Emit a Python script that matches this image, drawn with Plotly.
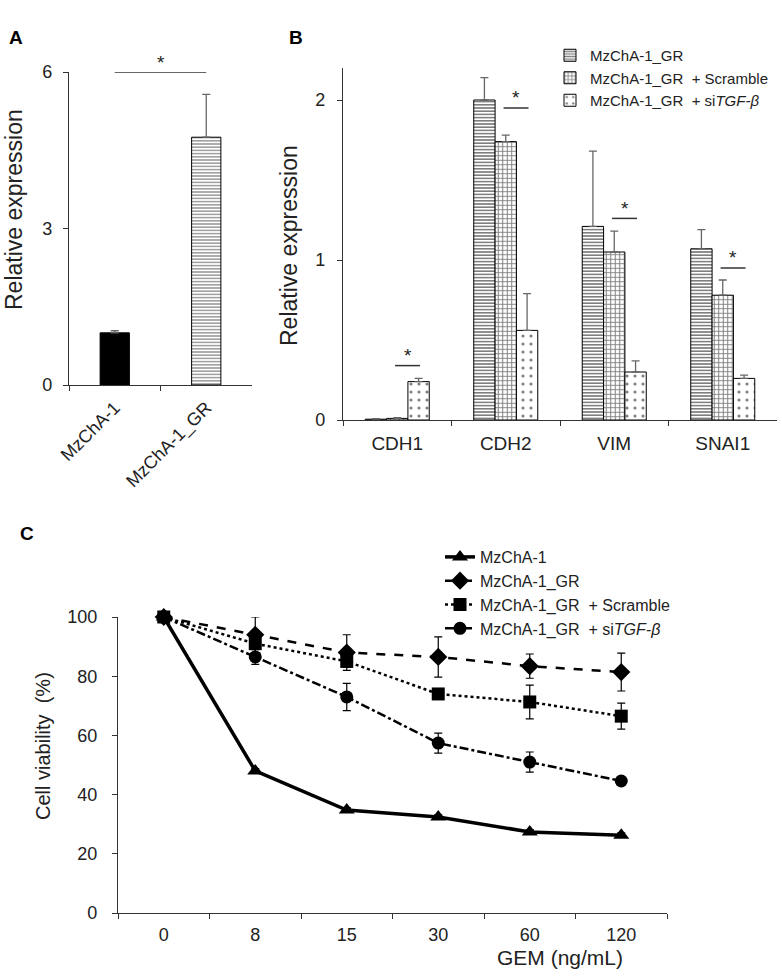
import plotly.graph_objects as go

# ---------------- data ----------------
A_groups = ['MzChA-1', 'MzChA-1_GR']
A_values = [1.0, 4.75]
A_err = [0.04, 0.82]
A_sig_y = 6.0

B_genes = ['CDH1', 'CDH2', 'VIM', 'SNAI1']
B_names = ['MzChA-1_GR', 'MzChA-1_GR  + Scramble', 'MzChA-1_GR  + si<i>TGF-β</i>']
B_gr = [0.005, 2.0, 1.21, 1.07]
B_gr_err = [0.003, 0.14, 0.47, 0.12]
B_scr = [0.01, 1.74, 1.05, 0.78]
B_scr_err = [0.004, 0.04, 0.13, 0.095]
B_si = [0.24, 0.56, 0.30, 0.26]
B_si_err = [0.02, 0.23, 0.07, 0.02]
B_sig_y = [0.34, 1.95, 1.26, 0.95]

C_doses = ['0', '8', '15', '30', '60', '120']
C_names = ['MzChA-1', 'MzChA-1_GR', 'MzChA-1_GR  + Scramble', 'MzChA-1_GR  + si<i>TGF-β</i>']
C_mz = [100, 48, 34.8, 32.4, 27.4, 26.3]
C_mz_err = [0, 0.8, 0.8, 0.8, 0.8, 0.8]
C_gr = [100, 94, 88, 86.5, 83.4, 81.4]
C_gr_err = [0, 6, 6, 6.8, 4.1, 6.4]
C_scr = [100, 91, 85, 74, 71.3, 66.5]
C_scr_err = [0, 4, 2, 1.5, 5.7, 4.4]
C_si = [100, 86.5, 73, 57.4, 51, 44.6]
C_si_err = [0, 2.5, 4.6, 3.4, 3.4, 1]

FONT = 'Liberation Sans, Arial, sans-serif'
W, H = 782, 980
AX = '#333333'
TXT = '#222222'


def px_x(p):
    return p / W


def px_y(p):
    return 1 - p / H


fig = go.Figure()

# ---------------- panel A ----------------
fig.add_trace(go.Bar(
    x=A_groups, y=A_values, width=0.32,
    marker=dict(color=['black', 'white'], line=dict(color='black', width=1),
                pattern=dict(shape=['', '-'], fgcolor='black', bgcolor='white',
                             size=3.2, solidity=0.5)),
    error_y=dict(type='data', array=A_err, arrayminus=[0, 0], symmetric=False,
                 color='#666666', thickness=1.3, width=4),
    showlegend=False, xaxis='x', yaxis='y'))

# ---------------- panel B ----------------
b_specs = [
    (B_names[0], B_gr, B_gr_err, '-', 3.2, 0.5),
    (B_names[1], B_scr, B_scr_err, '+', 4.5, 0.4),
    (B_names[2], B_si, B_si_err, '.', 8, 0.12),
]
for name, vals, errs, shp, sz, sol in b_specs:
    fig.add_trace(go.Bar(
        x=B_genes, y=vals, name=name,
        marker=dict(color='white', line=dict(color='black', width=1),
                    pattern=dict(shape=shp, fgcolor='black', bgcolor='white',
                                 size=sz, solidity=sol)),
        error_y=dict(type='data', array=errs, arrayminus=[0] * len(errs),
                     symmetric=False, color='#666666', thickness=1.3, width=4),
        xaxis='x2', yaxis='y2', legend='legend'))

# ---------------- panel C ----------------
c_specs = [
    (C_names[0], C_mz, C_mz_err, 'solid', 3.5, 'triangle-up', 14),
    (C_names[1], C_gr, C_gr_err, 'dash', 2.5, 'diamond', 14),
    (C_names[2], C_scr, C_scr_err, 'dot', 2.5, 'square', 13),
    (C_names[3], C_si, C_si_err, 'dashdot', 2.5, 'circle', 13),
]
for name, vals, errs, dash, lw, sym, ms in c_specs:
    fig.add_trace(go.Scatter(
        x=C_doses, y=vals, name=name, mode='lines+markers',
        line=dict(color='black', width=lw, dash=dash),
        marker=dict(symbol=sym, size=ms, color='black'),
        error_y=dict(type='data', array=errs, symmetric=True,
                     color='black', thickness=1.2, width=4),
        cliponaxis=False, xaxis='x3', yaxis='y3', legend='legend2'))

# ---------------- shapes / annotations ----------------
shapes = []
annotations = []

shapes.append(dict(type='line', xref='x', yref='y', x0=0, x1=1,
                   y0=A_sig_y, y1=A_sig_y, line=dict(color=AX, width=1.5)))
annotations.append(dict(xref='x', yref='y', x=0.5, y=A_sig_y, text='*',
                        showarrow=False, yshift=10, xanchor='center', yanchor='middle',
                        font=dict(size=19, color=TXT, family=FONT)))

for i, yv in enumerate(B_sig_y):
    shapes.append(dict(type='line', xref='x2', yref='y2', x0=i - 0.02, x1=i + 0.21,
                       y0=yv, y1=yv, line=dict(color=AX, width=1.5)))
    annotations.append(dict(xref='x2', yref='y2', x=i + 0.095, y=yv, text='*',
                            showarrow=False, yshift=10, xanchor='center', yanchor='middle',
                            font=dict(size=19, color=TXT, family=FONT)))


def label(x, y, text, size, angle=0, color=TXT):
    return dict(xref='paper', yref='paper', x=px_x(x), y=px_y(y), text=text,
                textangle=angle, showarrow=False, xanchor='center', yanchor='middle',
                font=dict(size=size, color=color, family=FONT))


annotations += [
    label(14, 210, 'Relative expression', 23, -90),
    label(289, 246, 'Relative expression', 23, -90),
    label(43, 746, 'Cell viability  (%)', 20, -90),
    label(560, 957, 'GEM (ng/mL)', 21),
    label(16, 37, '<b>A</b>', 19, color='black'),
    label(296, 37, '<b>B</b>', 19, color='black'),
    label(27, 533, '<b>C</b>', 19, color='black'),
]


def axis(size=18, standoff=6, **kw):
    d = dict(showline=True, linecolor=AX, linewidth=1.2, ticks='outside',
             tickcolor=AX, ticklen=5, showgrid=False, zeroline=False,
             automargin=False, ticklabelstandoff=standoff,
             tickfont=dict(size=size, color=TXT, family=FONT))
    d.update(kw)
    return d


fig.update_layout(
    width=W, height=H, margin=dict(l=0, r=0, t=0, b=0, autoexpand=False),
    paper_bgcolor='white', plot_bgcolor='white',
    barmode='group', bargap=0.41, bargroupgap=0,
    font=dict(family=FONT, color=TXT),
    shapes=shapes, annotations=annotations,
    xaxis=axis(18, 4, domain=[px_x(69), px_x(252)], anchor='y', type='category',
               tickson='boundaries', tickangle=-45, range=[-0.5, 1.5]),
    yaxis=axis(18, 7, domain=[px_y(385), px_y(72)], anchor='x', range=[0, 6],
               tickvals=[0, 3, 6]),
    xaxis2=axis(19, 6, domain=[px_x(343), px_x(777)], anchor='y2', type='category',
                tickson='boundaries', range=[-0.5, 3.5]),
    yaxis2=axis(18, 8, domain=[px_y(420), px_y(68)], anchor='x2', range=[0, 2.2],
                tickvals=[0, 1, 2]),
    xaxis3=axis(18, 5, domain=[px_x(118), px_x(667)], anchor='y3', type='category',
                tickson='boundaries', range=[-0.5, 5.5]),
    yaxis3=axis(18, 11, domain=[px_y(913), px_y(617)], anchor='x3', range=[0, 100],
                dtick=20),
    legend=dict(x=px_x(550), y=px_y(39), xanchor='left', yanchor='top',
                bgcolor='rgba(0,0,0,0)', font=dict(size=15, color=TXT, family=FONT),
                itemwidth=30, tracegroupgap=0),
    legend2=dict(x=px_x(440), y=px_y(540), xanchor='left', yanchor='top',
                 bgcolor='rgba(0,0,0,0)', font=dict(size=16, color=TXT, family=FONT),
                 itemwidth=30, tracegroupgap=0),
)

fig.write_html('out.html', config={'displayModeBar': False},
               post_script="document.body.style.margin='0';")
